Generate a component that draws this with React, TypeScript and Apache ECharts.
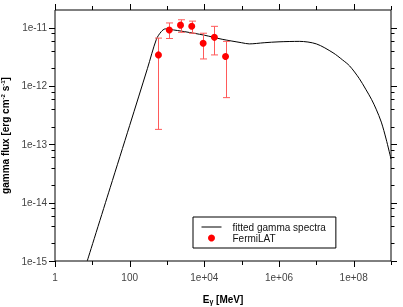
import React, { useEffect, useRef } from "react";
import * as echarts from "echarts";

// Fitted spectrum (E in MeV, flux in erg cm^-2 s^-1)
const curveEnergy = [7.3, 30, 100, 300, 520, 700, 900, 1200, 3000, 1e4, 3e4, 1e5, 1.6e5, 4e5, 1e6, 3.5e6, 1e7, 2.8e7, 5e7, 7.8e7, 1.4e8, 2.1e8, 3e8, 4e8, 5.5e8, 7.4e8, 1e9];
const curveFlux = [1e-15, 1.8e-14, 2.1e-13, 2.0e-12, 6.3e-12, 8.5e-12, 9.5e-12, 9.3e-12, 8.5e-12, 7.4e-12, 6.3e-12, 5.5e-12, 5.25e-12, 5.5e-12, 5.7e-12, 5.8e-12, 5.25e-12, 3.7e-12, 2.8e-12, 2.2e-12, 1.35e-12, 8.8e-13, 5.9e-13, 4.0e-13, 2.4e-13, 1.23e-13, 5.6e-14];

// Fermi-LAT points
const fermiEnergy = [590, 1150, 2300, 4600, 9300, 18600, 37000];
const fermiFlux = [3.4e-12, 9.1e-12, 1.1e-11, 1.05e-11, 5.4e-12, 6.8e-12, 3.2e-12];
const fermiLow = [1.8e-13, 6.5e-12, 8.3e-12, 8.0e-12, 2.9e-12, 3.4e-12, 6.3e-13];
const fermiHigh = [6.6e-12, 1.2e-11, 1.36e-11, 1.29e-11, 8.0e-12, 1.05e-11, 5.8e-12];

// Axis ticks
const xTickValues = [1, 10, 100, 1e3, 1e4, 1e5, 1e6, 1e7, 1e8, 1e9];
const yMajorTicks = [1e-15, 1e-14, 1e-13, 1e-12, 1e-11];
const yMinorFactors = [2, 4, 6, 8];

const X_MIN = 1;
const X_MAX = 1e9;
const Y_MIN = 1e-15;
const Y_MAX = 2e-11;

const FONT = "Liberation Sans, Arial, sans-serif";

export default function App() {
  const ref = useRef<HTMLDivElement>(null);

  useEffect(() => {
    if (!ref.current) return;
    const chart = echarts.init(ref.current, null, { renderer: "svg" });

    const tickData: number[][] = [];
    xTickValues.forEach((v) => {
      const e = Math.round(Math.log10(v));
      tickData.push([v, Y_MIN, e % 2 === 0 ? 0 : 1]);
    });
    yMajorTicks.forEach((v) => {
      tickData.push([X_MIN, v, 2]);
      yMinorFactors.forEach((f) => {
        if (v * f < Y_MAX * 0.999) tickData.push([X_MIN, v * f, 3]);
      });
    });

    const errData = fermiEnergy.map((e, i) => [e, fermiLow[i], fermiHigh[i]]);

    const fmtX = (v: number) => {
      const e = Math.round(Math.log10(v));
      if (e % 2 !== 0 || e > 8) return "";
      if (e === 0) return "1";
      if (e === 2) return "100";
      return "1e+" + (e < 10 ? "0" + e : "" + e);
    };
    const fmtY = (v: number) => {
      const e = Math.round(Math.log10(v));
      return "1e" + e;
    };

    chart.setOption({
      animation: false,
      grid: {
        left: 55,
        top: 10,
        width: 336,
        height: 251,
        show: true,
        borderColor: "#000",
        borderWidth: 1,
        backgroundColor: "transparent",
        outerBoundsMode: "none",
      },
      xAxis: {
        type: "log",
        logBase: 10,
        min: X_MIN,
        max: X_MAX,
        axisLine: { show: false },
        axisTick: { show: false },
        splitLine: { show: false },
        axisLabel: {
          formatter: fmtX,
          fontFamily: FONT,
          fontSize: 10,
          color: "#444",
          margin: 11,
        },
        name: "{a|E}{b|γ}{a| [MeV]}",
        nameLocation: "middle",
        nameGap: 32,
        nameTextStyle: {
          rich: {
            a: { fontFamily: FONT, fontSize: 10, fontWeight: "bold", color: "#000", lineHeight: 12 },
            b: { fontFamily: FONT, fontSize: 7, fontWeight: "bold", color: "#000", lineHeight: 7, verticalAlign: "bottom" },
          },
        },
      },
      yAxis: {
        type: "log",
        logBase: 10,
        min: Y_MIN,
        max: Y_MAX,
        axisLine: { show: false },
        axisTick: { show: false },
        splitLine: { show: false },
        axisLabel: {
          formatter: fmtY,
          fontFamily: FONT,
          fontSize: 10,
          color: "#444",
          margin: 8,
          showMaxLabel: false,
        },
        name: "{a|gamma flux [erg cm}{s|-2}{a| s}{s|-1}{a|]}",
        nameLocation: "middle",
        nameGap: 42,
        nameTextStyle: {
          rich: {
            a: { fontFamily: FONT, fontSize: 10, fontWeight: "bold", color: "#000", lineHeight: 12 },
            s: { fontFamily: FONT, fontSize: 6, fontWeight: "bold", color: "#000", lineHeight: 7, verticalAlign: "top" },
          },
        },
      },
      legend: {
        left: 193,
        top: 217,
        orient: "vertical",
        backgroundColor: "#fff",
        borderColor: "#000",
        borderWidth: 1,
        borderRadius: 0,
        padding: [5, 10, 5, 8],
        itemGap: 1,
        itemWidth: 20,
        itemHeight: 7,
        textStyle: { fontFamily: FONT, fontSize: 10, color: "#111", padding: [0, 0, 0, 6] },
        data: [
          {
            name: "fitted gamma spectra",
            itemStyle: { color: "rgba(0,0,0,0)", borderWidth: 0, opacity: 0 },
            lineStyle: { color: "#000", width: 1, opacity: 1 },
          },
          { name: "FermiLAT", icon: "circle", itemStyle: { color: "#ff0000", opacity: 1 } },
        ],
      },
      series: [
        {
          type: "custom",
          name: "ticks",
          silent: true,
          clip: false,
          data: tickData,
          encode: { x: 0, y: 1 },
          renderItem: (params: any, api: any) => {
            const cs = params.coordSys;
            const kind = api.value(2);
            const p = api.coord([api.value(0), api.value(1)]);
            const st = { stroke: "#000", lineWidth: 1 };
            if (kind === 0 || kind === 1) {
              const len = kind === 0 ? 6 : 4;
              const x = Math.round(p[0]) + 0.5;
              const yb = cs.y + cs.height;
              return {
                type: "group",
                children: [
                  { type: "line", shape: { x1: x, y1: yb, x2: x, y2: yb + len }, style: st },
                  { type: "line", shape: { x1: x, y1: cs.y, x2: x, y2: cs.y - len }, style: st },
                ],
              };
            }
            const len = kind === 2 ? 6 : 3.5;
            const y = Math.round(p[1]) + 0.5;
            const xr = cs.x + cs.width;
            return {
              type: "group",
              children: [
                { type: "line", shape: { x1: cs.x - len, y1: y, x2: cs.x, y2: y }, style: st },
                { type: "line", shape: { x1: xr, y1: y, x2: xr + len, y2: y }, style: st },
              ],
            };
          },
          z: 5,
        },
        {
          type: "line",
          name: "fitted gamma spectra",
          data: curveEnergy.map((e, i) => [e, curveFlux[i]]),
          symbol: "none",
          smooth: 0.3,
          lineStyle: { color: "#000", width: 1 },
          itemStyle: { color: "#000" },
          z: 2,
        },
        {
          type: "custom",
          name: "errors",
          silent: true,
          data: errData,
          encode: { x: 0, y: [1, 2] },
          renderItem: (params: any, api: any) => {
            const e = api.value(0);
            const lo = api.coord([e, api.value(1)]);
            const hi = api.coord([e, api.value(2)]);
            const x = Math.round(lo[0]) + 0.5;
            const st = { stroke: "#ff5a5a", lineWidth: 1 };
            const cap = 3.5;
            return {
              type: "group",
              children: [
                { type: "line", shape: { x1: x, y1: hi[1], x2: x, y2: lo[1] }, style: st },
                { type: "line", shape: { x1: x - cap, y1: hi[1], x2: x + cap, y2: hi[1] }, style: st },
                { type: "line", shape: { x1: x - cap, y1: lo[1], x2: x + cap, y2: lo[1] }, style: st },
              ],
            };
          },
          z: 3,
        },
        {
          type: "scatter",
          name: "FermiLAT",
          data: fermiEnergy.map((e, i) => [e, fermiFlux[i]]),
          symbol: "circle",
          symbolSize: 7,
          itemStyle: { color: "#ff0000", opacity: 1 },
          z: 4,
        },
      ],
    });

    return () => chart.dispose();
  }, []);

  return (
    <div
      ref={ref}
      style={{ position: "fixed", left: 0, top: 0, width: 403, height: 307 }}
    />
  );
}
